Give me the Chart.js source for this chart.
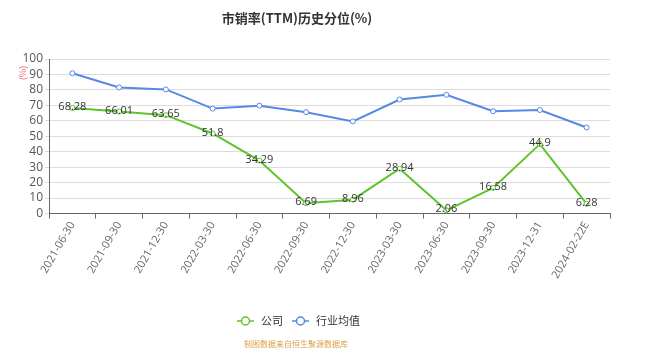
<!DOCTYPE html>
<html><head><meta charset="utf-8">
<script src="https://cdn.jsdelivr.net/npm/chart.js@4"></script>
<style>html,body{margin:0;padding:0;background:#fff}#wrap{width:659px;height:355px}</style>
</head><body><div id="wrap"><canvas id="c" width="659" height="355"></canvas></div>
<script>
const categories = ['2021-06-30','2021-09-30','2021-12-30','2022-03-30','2022-06-30','2022-09-30','2022-12-30','2023-03-30','2023-06-30','2023-09-30','2023-12-31','2024-02-22E'];
const companyValues = [68.28,66.01,63.65,51.8,34.29,6.69,8.96,28.94,2.06,16.58,44.9,6.28];
const industryValues = [90.8,81.6,80.3,67.9,69.8,65.6,59.6,73.8,76.8,66.2,67.0,55.7];
const yTicks = [0,10,20,30,40,50,60,70,80,90,100];
const seriesNames = ['公司','行业均值'];
const titleText = '市销率(TTM)历史分位(%)';
const unitText = '(%)';
const sourceText = '制图数据来自恒生聚源数据库';

const FONT = '"Open Sans","Noto Sans CJK SC",sans-serif';
const GREEN = '#5cc52b', BLUE = '#5689e6';

const extras = {
  id:'extras',
  afterDraw(chart){
    const ctx = chart.ctx;
    ctx.save();
    ctx.fillStyle = '#333';
    ctx.font = 'bold 13px "Noto Sans CJK SC",sans-serif';
    ctx.textAlign = 'center'; ctx.textBaseline = 'middle';
    ctx.fillText(titleText, 297, 18);
    // unit
    ctx.save();
    ctx.translate(23, 73); ctx.rotate(-Math.PI/2);
    ctx.fillStyle = '#f26b6b'; ctx.font = '9px "Noto Sans CJK SC",sans-serif';
    ctx.fillText(unitText, 0, 0);
    ctx.restore();
    // data labels
    ctx.font = '11px ' + FONT; ctx.fillStyle = '#333';
    const meta = chart.getDatasetMeta(0);
    meta.data.forEach((p,i)=>{ ctx.fillText(String(companyValues[i]), p.x, p.y - 1); });
    // legend
    const items = [[237, GREEN, seriesNames[0]], [292, BLUE, seriesNames[1]]];
    ctx.textAlign = 'left';
    ctx.font = '11px "Noto Sans CJK SC",sans-serif';
    items.forEach(([x,col,t])=>{
      ctx.strokeStyle = col; ctx.lineWidth = 1.5;
      ctx.beginPath(); ctx.moveTo(x, 321); ctx.lineTo(x+17, 321); ctx.stroke();
      ctx.beginPath(); ctx.arc(x+8.5, 321, 4, 0, Math.PI*2); ctx.fillStyle='#fff'; ctx.fill(); ctx.stroke();
      ctx.fillStyle = '#333'; ctx.fillText(t, x+24, 321);
    });
    // source
    ctx.textAlign = 'center';
    ctx.fillStyle = '#d9a14a'; ctx.font = '8px "Noto Sans CJK SC",sans-serif';
    ctx.fillText(sourceText, 296, 344);
    ctx.restore();
  }
};

new Chart(document.getElementById('c'), {
  type:'line',
  data:{ labels:categories, datasets:[
    {label:seriesNames[0], data:companyValues, borderColor:GREEN, backgroundColor:'#fff', borderWidth:2, pointRadius:2.5, pointBorderWidth:1, pointBackgroundColor:'#fff', pointBorderColor:GREEN, tension:0},
    {label:seriesNames[1], data:industryValues, borderColor:BLUE, backgroundColor:'#fff', borderWidth:2, pointRadius:2.5, pointBorderWidth:1, pointBackgroundColor:'#fff', pointBorderColor:BLUE, tension:0}
  ]},
  options:{
    responsive:false, animation:false, devicePixelRatio:1,
    layout:{padding:{left:0,right:49,top:59,bottom:0}},
    plugins:{legend:{display:false}, title:{display:false}, tooltip:{enabled:false}},
    scales:{
      x:{ offset:true,
        grid:{drawOnChartArea:false, drawTicks:true, tickLength:5, color:'#666', offset:true},
        border:{color:'#666'},
        ticks:{color:'#666', font:{size:11, family:FONT}, maxRotation:60, minRotation:60, autoSkip:false, padding:1},
        afterFit(s){ s.height = 141.5; }
      },
      y:{ min:yTicks[0], max:yTicks[yTicks.length-1],
        grid:{color:'#dcdcdc', tickLength:4, drawTicks:true},
        border:{color:'#666'},
        ticks:{color:'#555', font:{size:12, family:FONT}, padding:2, stepSize:yTicks[1]-yTicks[0], autoSkip:false},
        afterFit(s){ s.width = 49; }
      }
    }
  },
  plugins:[extras]
});
</script></body></html>
